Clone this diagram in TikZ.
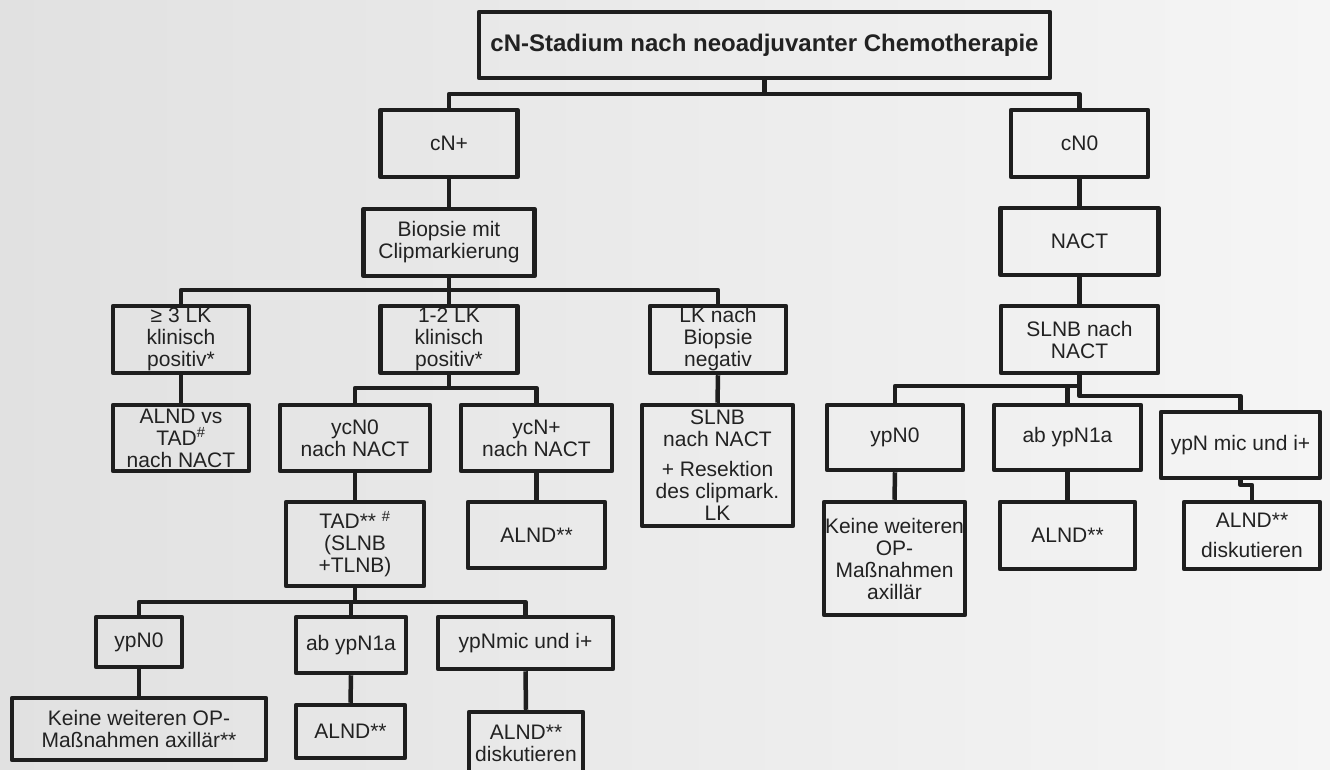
\documentclass[tikz,border=0pt]{standalone}
\usepackage{fontspec}
\setmainfont{Liberation Sans}
\definecolor{bgleft}{RGB}{225,225,225}
\definecolor{bgright}{RGB}{245,245,245}
\definecolor{ink}{RGB}{30,30,30}
\definecolor{txt}{RGB}{34,34,34}
\tikzset{
  box/.style={draw=ink, line width=4.5pt, line join=round, inner sep=0pt,
    align=center, text=txt, font=\fontsize{21}{22}\selectfont},
  boxsize/.style 2 args={minimum width=#1pt, minimum height=#2pt},
  conn/.style={draw=ink, line width=4.5pt, line join=round},
}
\begin{document}
\begin{tikzpicture}[x=1pt, y=-1pt]
  % page and background
  \useasboundingbox (0,0) rectangle (1330,769);
  \shade[left color=bgleft, right color=bgright] (0,0) rectangle (1330,769);

  % root
  \node[box, boxsize={571}{66}, font=\fontsize{24}{28}\selectfont\bfseries] (title) at (764.5,45)
    {cN-Stadium nach neoadjuvanter Chemotherapie};

  % cN+ branch
  \node[box, boxsize={137}{67}] (cnplus)  at (449,143.5) {cN+};
  \node[box, boxsize={171}{67}] (biopsie) at (449,242.5) {Biopsie mit\\Clipmarkierung};
  \node[box, boxsize={136}{67}] (lk3)     at (181,339.5) {≥ 3 LK\\klinisch\\positiv*};
  \node[box, boxsize={137}{67}] (lk12)    at (449,339.5) {1-2 LK\\klinisch\\positiv*};
  \node[box, boxsize={136}{67}] (lkneg)   at (718,339.5) {LK nach\\Biopsie\\negativ};
  \node[box, boxsize={136}{66}] (alndtad) at (181,438) {ALND vs\\TAD\textsuperscript{\#}\\nach NACT};
  \node[box, boxsize={150}{66}] (ycn0)    at (355,438) {ycN0\\nach NACT};
  \node[box, boxsize={151}{66}] (ycnp)    at (536.5,438) {ycN+\\nach NACT};
  \node[box, boxsize={151}{121}] (slnbres) at (717.5,465.5)
    {SLNB\\nach NACT\\[8pt]+ Resektion\\des clipmark.\\LK};
  \node[box, boxsize={138}{84}] (tad)     at (355,544) {TAD** \textsuperscript{\#}\\(SLNB\\+TLNB)};
  \node[box, boxsize={137}{66}] (alndycn) at (536.5,535) {ALND**};
  \node[box, boxsize={86}{50}]  (ypn0L)   at (139,642) {ypN0};
  \node[box, boxsize={110}{56}] (ypn1L)   at (351,645) {ab ypN1a};
  \node[box, boxsize={175}{52}] (ypnmicL) at (525.5,643) {ypNmic und i+};
  \node[box, boxsize={254}{62}] (keineL)  at (139,729) {Keine weiteren OP-\\Maßnahmen axillär**};
  \node[box, boxsize={109}{53}] (alndL)   at (350.5,731.5) {ALND**};
  \node[box, boxsize={114}{62}] (alnddiskL) at (526,743) {ALND**\\diskutieren};

  % cN0 branch
  \node[box, boxsize={137}{67}] (cn0)     at (1079.5,143.5) {cN0};
  \node[box, boxsize={158}{67}] (nact)    at (1079.5,241.5) {NACT};
  \node[box, boxsize={157}{67}] (slnbR)   at (1079.5,339.5) {SLNB nach\\NACT};
  \node[box, boxsize={136}{65}] (ypn0R)   at (895,437.5) {ypN0};
  \node[box, boxsize={147}{65}] (ypn1R)   at (1067.5,437.5) {ab ypN1a};
  \node[box, boxsize={159}{66}] (ypnmicR) at (1240.5,445) {ypN mic und i+};
  \node[box, boxsize={141}{113}] (keineR) at (894.5,558.5) {Keine weiteren\\OP-\\Maßnahmen\\axillär};
  \node[box, boxsize={135}{67}] (alndR)   at (1067.5,535.5) {ALND**};
  \node[box, boxsize={136}{67}] (alnddiskR) at (1252,535.5) {ALND**\\[8pt]diskutieren};

  % branching points
  \coordinate (j0) at (764.5,94);
  \coordinate (j1) at (449,290);
  \coordinate (j2) at (449,388);
  \coordinate (j3) at (355,602);
  \coordinate (j4) at (1079.5,386);
  \coordinate (j5) at (1079.5,396);
  \coordinate (j6) at (1240.5,485);

  % connectors
  \draw[conn] (title.south) -- (j0);
  \draw[conn] (cnplus.north) |- (j0) -| (cn0.north);
  \draw[conn] (cnplus.south) -- (biopsie.north);
  \draw[conn] (biopsie.south) -- (lk12.north);
  \draw[conn] (lk3.north) |- (j1) -| (lkneg.north);
  \draw[conn] (lk3.south) -- (alndtad.north);
  \draw[conn] (lkneg.south) -- (slnbres.north);
  \draw[conn] (lk12.south) -- (j2);
  \draw[conn] (ycn0.north) |- (j2) -| (ycnp.north);
  \draw[conn] (ycn0.south) -- (tad.north);
  \draw[conn] (ycnp.south) -- (alndycn.north);
  \draw[conn] (tad.south) -- (j3);
  \draw[conn] (ypn0L.north) |- (j3) -| (ypnmicL.north);
  \draw[conn] (ypn1L.north) -- (ypn1L.north |- j3);
  \draw[conn] (ypn0L.south) -- (keineL.north);
  \draw[conn] (ypn1L.south) -- (alndL.north);
  \draw[conn] (ypnmicL.south) -- (alnddiskL.north);

  \draw[conn] (cn0.south) -- (nact.north);
  \draw[conn] (nact.south) -- (slnbR.north);
  \draw[conn] (slnbR.south) -- (j5) -| (ypnmicR.north);
  \draw[conn] (ypn0R.north) |- (j4);
  \draw[conn] (ypn1R.north) -- (ypn1R.north |- j4);
  \draw[conn] (ypn0R.south) -- (keineR.north);
  \draw[conn] (ypn1R.south) -- (alndR.north);
  \draw[conn] (ypnmicR.south) -- (j6) -| (alnddiskR.north);
\end{tikzpicture}
\end{document}
